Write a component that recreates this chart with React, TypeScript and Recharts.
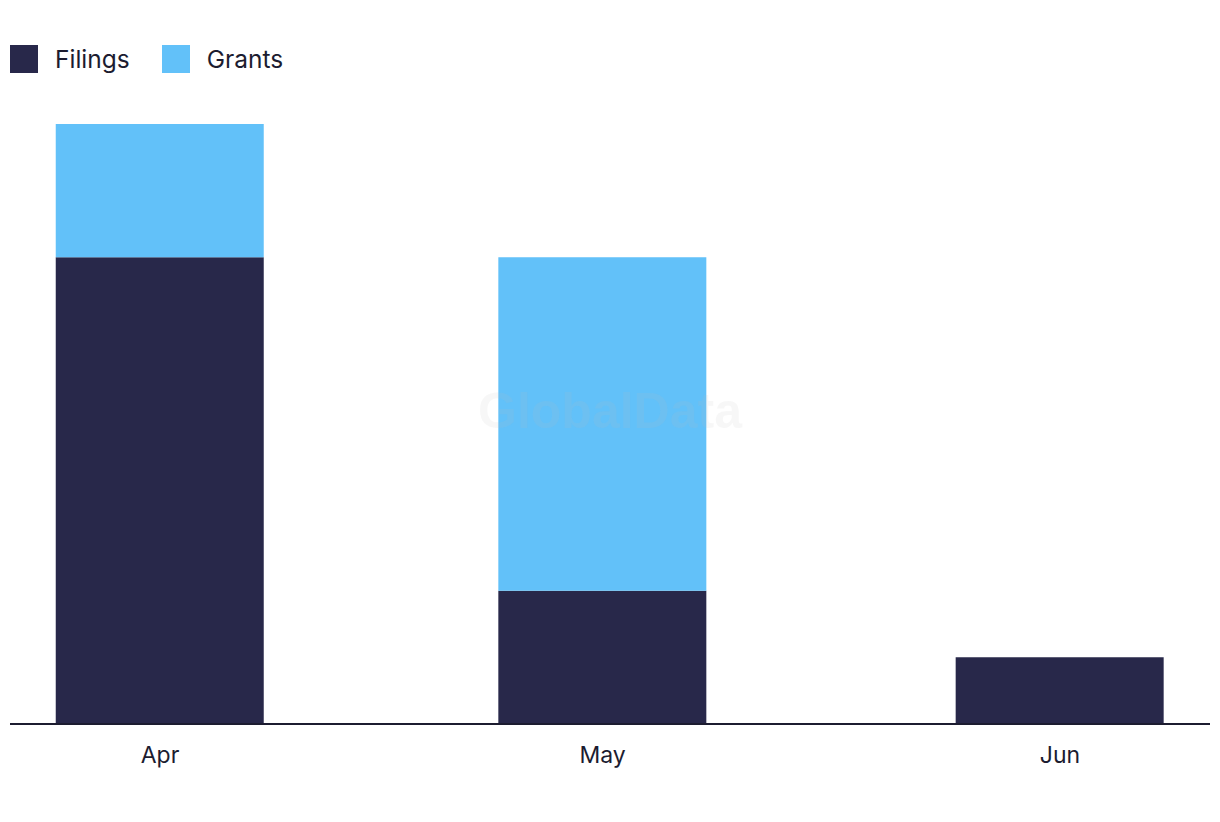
import { BarChart, Bar, XAxis, YAxis } from "recharts";

const months = ["Apr", "May", "Jun"];
// days since 1 Apr, so the bars sit on a time scale like the source
const dayOffsets = [0, 30, 61];
const filings = [7, 2, 1];
const grants = [2, 5, 0];

const FILINGS_COLOR = "#28284a";
const GRANTS_COLOR = "#62c1f9";
const TEXT_COLOR = "#1c1c30";
const FONT = "Inter, 'Noto Sans', sans-serif";

const data = months.map((m, i) => ({
  day: dayOffsets[i],
  month: m,
  filings: filings[i],
  grants: grants[i],
}));

const legendItems = [
  { label: "Filings", color: FILINGS_COLOR },
  { label: "Grants", color: GRANTS_COLOR },
];

function ChartLegend() {
  return (
    <div
      style={{
        position: "absolute",
        left: 10,
        top: 44,
        display: "flex",
        alignItems: "center",
        fontFamily: FONT,
        zIndex: 2,
      }}
    >
      {legendItems.map((item) => (
        <div key={item.label} style={{ display: "flex", alignItems: "center", marginRight: 32 }}>
          <span style={{ width: 28, height: 28, background: item.color, display: "inline-block" }} />
          <span style={{ marginLeft: 17, fontSize: 24.5, color: TEXT_COLOR }}>{item.label}</span>
        </div>
      ))}
    </div>
  );
}

export default function App() {
  const monthByDay = (v: number) => months[dayOffsets.indexOf(v)] ?? "";
  return (
    <div style={{ position: "absolute", left: 0, top: 0, width: 1220, height: 822, background: "#fff" }}>
      <ChartLegend />
      <BarChart
        width={1220}
        height={822}
        data={data}
        margin={{ top: 124, right: 10, left: 10, bottom: 0 }}
      >
        <XAxis
          dataKey="day"
          type="number"
          domain={[-10.17, 71.17]}
          ticks={dayOffsets}
          tickFormatter={monthByDay}
          height={98}
          tickLine={false}
          axisLine={{ stroke: TEXT_COLOR, strokeWidth: 2 }}
          tick={{ fill: TEXT_COLOR, fontSize: 23, fontFamily: FONT }}
          tickMargin={17}
        />
        <YAxis hide domain={[0, 9]} />
        <Bar dataKey="filings" stackId="a" fill={FILINGS_COLOR} barSize={208} isAnimationActive={false} />
        <Bar dataKey="grants" stackId="a" fill={GRANTS_COLOR} barSize={208} isAnimationActive={false} />
      </BarChart>
      <div
        style={{
          position: "absolute",
          left: 0,
          width: 1220,
          top: 382,
          textAlign: "center",
          fontFamily: "'Liberation Sans', Arial, sans-serif",
          fontWeight: 700,
          fontSize: 50,
          color: "rgba(190,190,190,0.12)",
          pointerEvents: "none",
        }}
      >
        GlobalData
      </div>
    </div>
  );
}
